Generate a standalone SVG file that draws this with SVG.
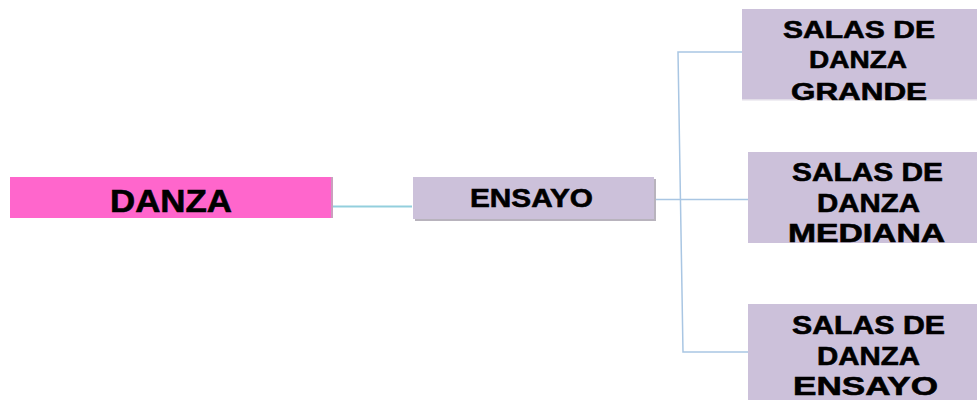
<svg xmlns="http://www.w3.org/2000/svg" width="977" height="400" viewBox="0 0 977 400">
<style>
.box{fill:#ccc1da;}
.shadow{fill:#b8b3bd;}
.t{font-family:"Liberation Sans",Arial,sans-serif;font-weight:bold;fill:#000;stroke:#000;stroke-width:0.6;}
.c{fill:none;stroke:#a9c6e3;stroke-width:1.5;}
</style>
<rect width="977" height="400" fill="#ffffff"/>
<g id="connectors">
<line x1="332" y1="206.5" x2="412" y2="206.5" stroke="#93cfdd" stroke-width="2"/>
<line class="c" x1="654" y1="199.5" x2="763" y2="199.5"/>
<path class="c" d="M757 52 L678 52 L683 352 L763 352"/>
</g>
<g id="danza">
<rect x="10" y="177" width="323" height="41" fill="#ff66cc"/>
<rect x="331" y="177" width="2" height="41" fill="#c9a0bd"/>
<text class="t" x="110" y="212" font-size="31" textLength="122" lengthAdjust="spacingAndGlyphs">DANZA</text>
</g>
<g id="ensayo">
<rect class="shadow" x="415" y="179" width="241" height="42"/>
<rect class="box" x="413" y="177" width="241" height="42"/>
<text class="t" x="470" y="207" font-size="26" textLength="123" lengthAdjust="spacingAndGlyphs">ENSAYO</text>
</g>
<g id="salas-grande">
<rect class="box" x="742" y="9" width="235" height="91"/>
<rect x="742" y="99" width="235" height="1.5" fill="#e2dde8"/>
<text class="t" x="783" y="38" font-size="24.5" textLength="152" lengthAdjust="spacingAndGlyphs">SALAS DE</text>
<text class="t" x="809" y="68" font-size="24.5" textLength="98" lengthAdjust="spacingAndGlyphs">DANZA</text>
<text class="t" x="791" y="100" font-size="24.5" textLength="136" lengthAdjust="spacingAndGlyphs">GRANDE</text>
</g>
<g id="salas-mediana">
<rect class="box" x="748" y="152" width="229" height="91"/>
<text class="t" x="792" y="181" font-size="25.5" textLength="151" lengthAdjust="spacingAndGlyphs">SALAS DE</text>
<text class="t" x="817" y="212" font-size="25.5" textLength="103" lengthAdjust="spacingAndGlyphs">DANZA</text>
<text class="t" x="788" y="242" font-size="25.5" textLength="157" lengthAdjust="spacingAndGlyphs">MEDIANA</text>
</g>
<g id="salas-ensayo">
<rect class="box" x="748" y="304" width="229" height="96"/>
<text class="t" x="792" y="334" font-size="25.5" textLength="153" lengthAdjust="spacingAndGlyphs">SALAS DE</text>
<text class="t" x="817" y="365" font-size="25.5" textLength="103" lengthAdjust="spacingAndGlyphs">DANZA</text>
<text class="t" x="793" y="395" font-size="25.5" textLength="145" lengthAdjust="spacingAndGlyphs">ENSAYO</text>
</g>
</svg>
